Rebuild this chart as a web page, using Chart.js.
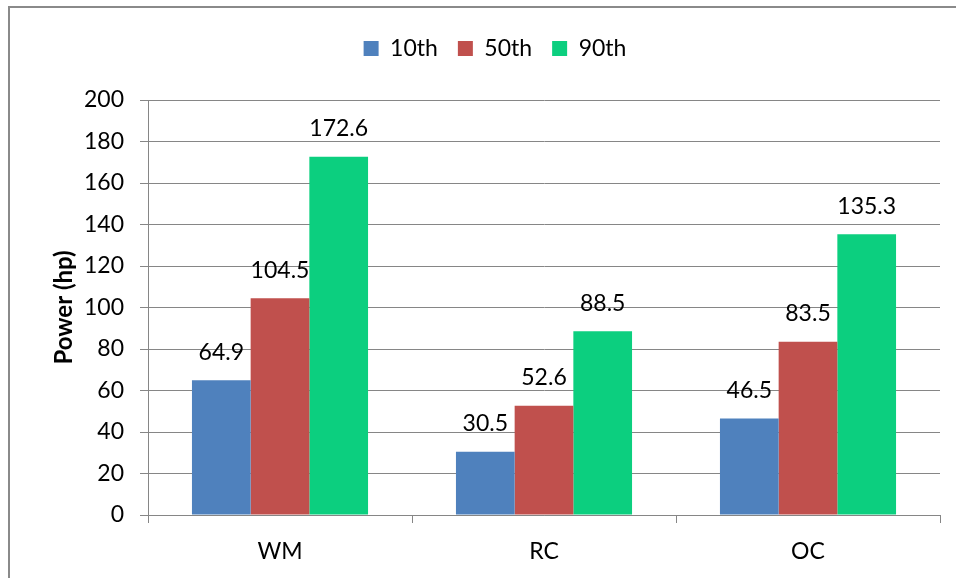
<!DOCTYPE html>
<html>
<head>
<meta charset="utf-8">
<script src="https://cdn.jsdelivr.net/npm/chart.js@4"></script>
<style>
  html, body { margin: 0; padding: 0; background: #fff; }
  #wrap { width: 956px; height: 578px; position: relative; }
</style>
</head>
<body>
<div id="wrap"><canvas id="powerChart"></canvas></div>
<script>
// categories and series
const categories = ['WM', 'RC', 'OC'];
const p10 = [64.9, 30.5, 46.5];
const p50 = [104.5, 52.6, 83.5];
const p90 = [172.6, 88.5, 135.3];
const yTicks = [0, 20, 40, 60, 80, 100, 120, 140, 160, 180, 200];

const FONT = "Lato, 'Liberation Sans', sans-serif";
const GRID = '#868686';

// value labels above each bar
const barLabels = {
    id: 'barLabels',
    afterDatasetsDraw(chart) {
        const ctx = chart.ctx;
        ctx.save();
        ctx.font = '23px ' + FONT;
        ctx.fillStyle = '#000';
        ctx.textAlign = 'center';
        ctx.textBaseline = 'middle';
        chart.data.datasets.forEach((ds, i) => {
            chart.getDatasetMeta(i).data.forEach((bar, j) => {
                ctx.fillText(ds.data[j].toFixed(1), bar.x, bar.y - 28);
            });
        });
        ctx.restore();
    }
};

// outer frame of the chart
const frame = {
    id: 'frame',
    beforeDraw(chart) {
        const ctx = chart.ctx;
        ctx.save();
        ctx.strokeStyle = '#8a8a8a';
        ctx.lineWidth = 2;
        ctx.beginPath();
        ctx.moveTo(9, 600);
        ctx.lineTo(9, 7);
        ctx.lineTo(1000, 7);
        ctx.stroke();
        ctx.restore();
    }
};

// extra gap under the legend
const legendGap = {
    id: 'legendGap',
    afterInit(chart) {
        const lg = chart.legend;
        if (!lg || lg._patched) return;
        const fit = lg.fit;
        lg.fit = function() {
            fit.call(this);
            this.height += 30;
        };
        lg._patched = true;
    }
};

new Chart(document.getElementById('powerChart'), {
    type: 'bar',
    data: {
        labels: categories,
        datasets: [
            { label: '10th', data: p10, backgroundColor: '#4f81bd' },
            { label: '50th', data: p50, backgroundColor: '#c0504d' },
            { label: '90th', data: p90, backgroundColor: '#0ccf7f' }
        ]
    },
    options: {
        responsive: true,
        maintainAspectRatio: false,
        animation: false,
        categoryPercentage: 0.667,
        barPercentage: 1.0,
        layout: { padding: { left: 50, right: 16, top: 17, bottom: 0 } },
        scales: {
            x: {
                grid: { display: true, offset: true, drawOnChartArea: false, color: GRID, tickLength: 8 },
                border: { color: GRID, width: 1 },
                ticks: { color: '#000', font: { family: FONT, size: 23 }, padding: 15 },
                afterFit(scale) { scale.height = 63; }
            },
            y: {
                min: 0,
                max: 200,
                afterBuildTicks(scale) { scale.ticks = yTicks.map(v => ({ value: v })); },
                grid: { color: GRID, tickLength: 8 },
                border: { color: GRID, width: 1 },
                ticks: { color: '#000', font: { family: FONT, size: 23 }, padding: 16 },
                title: {
                    display: true,
                    text: 'Power (hp)',
                    color: '#000',
                    font: { family: FONT, size: 24, weight: 'bold' },
                    padding: 0
                },
                afterFit(scale) { scale.width = 98; }
            }
        },
        plugins: {
            legend: {
                position: 'top',
                labels: {
                    color: '#000',
                    font: { family: FONT, size: 23 },
                    boxWidth: 15,
                    boxHeight: 15,
                    padding: 20
                }
            },
            tooltip: { enabled: false }
        }
    },
    plugins: [barLabels, frame, legendGap]
});
</script>
</body>
</html>
